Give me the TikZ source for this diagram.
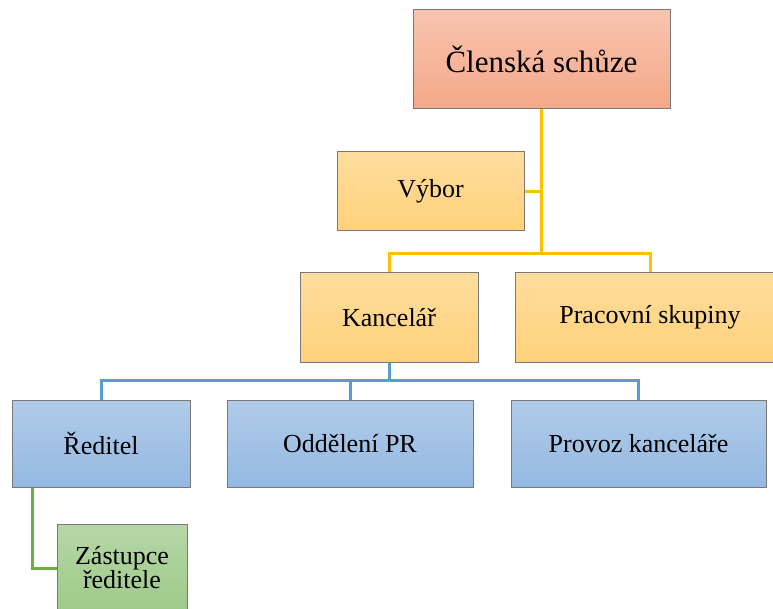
\documentclass[tikz,border=0pt]{standalone}
\usepackage{fontspec}
\setmainfont{Liberation Serif}
\usepackage{tikz}
\usetikzlibrary{positioning,calc}

\definecolor{salmontop}{RGB}{248,196,176}
\definecolor{salmonbot}{RGB}{244,168,136}
\definecolor{goldtop}{RGB}{255,221,158}
\definecolor{goldbot}{RGB}{255,209,122}
\definecolor{bluetop}{RGB}{177,203,233}
\definecolor{bluebot}{RGB}{148,185,226}
\definecolor{greentop}{RGB}{182,215,167}
\definecolor{greenbot}{RGB}{158,202,137}
\definecolor{boxedge}{RGB}{120,120,120}
\definecolor{yline}{RGB}{255,192,0}
\definecolor{bline}{RGB}{91,155,213}
\definecolor{gline}{RGB}{112,173,71}

\tikzset{
    orgbox/.style={draw=boxedge,line width=1pt,rectangle,inner sep=0pt,
        font=\fontsize{26}{24}\selectfont,align=center},
    topbox/.style={orgbox,top color=salmontop,bottom color=salmonbot,
        font=\fontsize{31}{31}\selectfont},
    goldbox/.style={orgbox,top color=goldtop,bottom color=goldbot},
    bluebox/.style={orgbox,top color=bluetop,bottom color=bluebot},
    greenbox/.style={orgbox,top color=greentop,bottom color=greenbot},
    yconn/.style={draw=yline,line width=3pt},
    bconn/.style={draw=bline,line width=3pt},
    gconn/.style={draw=gline,line width=3pt}
}

\begin{document}
\begin{tikzpicture}[x=1pt,y=-1pt]
    \useasboundingbox (0,0) rectangle (773,609);

    % Top level
    \node[topbox,minimum width=257pt,minimum height=99pt] (clen) at (541.5,59.5) {Členská schůze};
    \node[goldbox,minimum width=187pt,minimum height=79pt] (vybor) at (430.5,191.5) {Výbor};

    % Second level
    \node[goldbox,minimum width=178pt,minimum height=89pt] (kanc) at (389,317.5) {Kancelář};
    \node[goldbox,minimum width=270pt,minimum height=89pt] (prac) at (650,317.5) {Pracovní skupiny};

    % Office
    \node[bluebox,minimum width=178pt,minimum height=87pt] (red) at (101,443.5) {Ředitel};
    \node[bluebox,minimum width=246pt,minimum height=87pt] (odd) at (350,443.5) {Oddělení PR};
    \node[bluebox,minimum width=255pt,minimum height=87pt] (prov) at (638.5,443.5) {Provoz kanceláře};
    \node[greenbox,minimum width=130pt,minimum height=88pt] (zast) at (122,568) {Zástupce\\ředitele};

    % Connectors
    \coordinate (ybus) at (541.5,254);
    \coordinate (bbus) at (389,380);
    \draw[yconn] (clen.south) |- (vybor.east);
    \draw[yconn] (clen.south) -- (ybus);
    \draw[yconn] (kanc.north) |- (ybus) -| (prac.north);
    \draw[bconn] (kanc.south) -- (bbus);
    \draw[bconn] (red.north) |- (bbus) -| (prov.north);
    \draw[bconn] (odd.north) -- (odd.north |- bbus);
    \draw[gconn] ([xshift=-69pt]red.south) |- (zast.west);
\end{tikzpicture}
\end{document}
